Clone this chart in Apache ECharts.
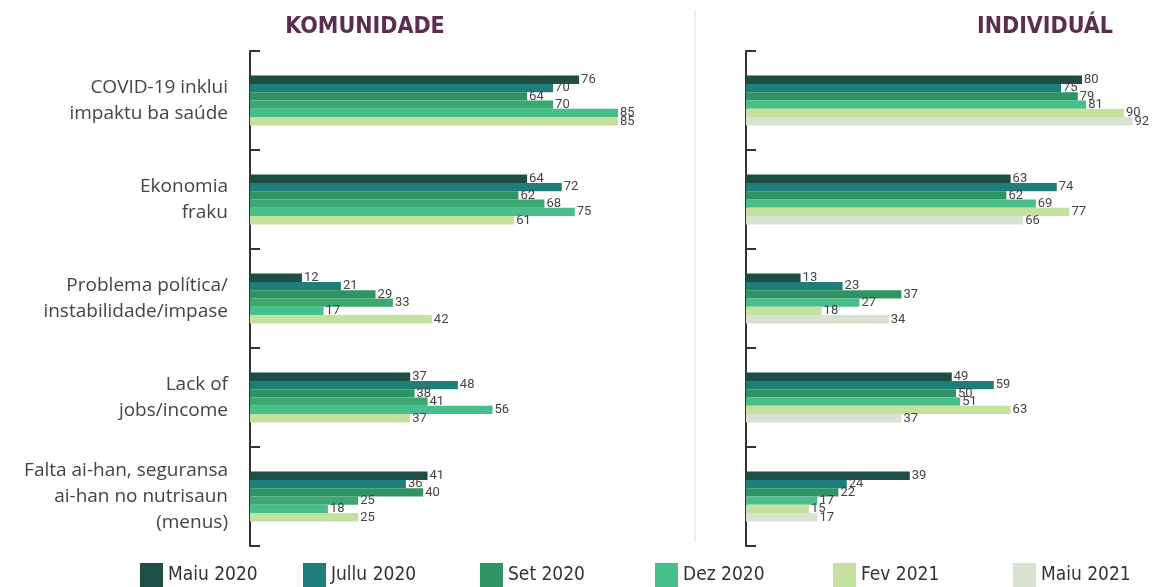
<!DOCTYPE html>
<html>
<head>
<meta charset="utf-8">
<script src="https://cdn.jsdelivr.net/npm/echarts@6/dist/echarts.min.js"></script>
<style>
  html, body { margin: 0; padding: 0; background: #fff; }
  #chart { width: 1166px; height: 587px; }
</style>
</head>
<body>
<div id="chart"></div>
<script>
const categories = [
  "COVID-19 inklui\nimpaktu ba saúde",
  "Ekonomia\nfraku",
  "Problema política/\ninstabilidade/impase",
  "Lack of\njobs/income",
  "Falta ai-han, seguransa\nai-han no nutrisaun\n(menus)"
];
const periods = ["Maiu 2020", "Jullu 2020", "Set 2020", "Dez 2020", "Fev 2021", "Maiu 2021"];

// KOMUNIDADE
const kMaiu2020 = [76, 64, 12, 37, 41];
const kJullu2020 = [70, 72, 21, 48, 36];
const kSet2020 = [64, 62, 29, 38, 40];
const kDez2020 = [70, 68, 33, 41, 25];
const kFev2021 = [85, 75, 17, 56, 18];
const kMaiu2021 = [85, 61, 42, 37, 25];

// INDIVIDUÁL
const iMaiu2020 = [80, 63, 13, 49, 39];
const iJullu2020 = [75, 74, 23, 59, 24];
const iSet2020 = [79, 62, 37, 50, 22];
const iDez2020 = [81, 69, 27, 51, 17];
const iFev2021 = [90, 77, 18, 63, 15];
const iMaiu2021 = [92, 66, 34, 37, 17];

const komunidade = [kMaiu2020, kJullu2020, kSet2020, kDez2020, kFev2021, kMaiu2021];
const individual = [iMaiu2020, iJullu2020, iSet2020, iDez2020, iFev2021, iMaiu2021];

const colors = ["#1d4f47", "#1e7f7a", "#2f9463", "#48bf8b", "#c5e1a0", "#d8e2d0"];
const kColors = ["#1d4f47", "#1e7f7a", "#2f9463", "#3aa870", "#48bf8b", "#c5e1a0"];
const legendLeft = [140, 303, 480, 655, 833, 1013];

const myCharts = echarts.init(document.getElementById("chart"));

function makeSeries(values, idx, axisIdx, color) {
  return {
    name: periods[idx],
    type: "bar",
    xAxisIndex: axisIdx,
    yAxisIndex: axisIdx,
    data: values,
    barWidth: 8.3,
    barGap: "0%",
    itemStyle: { color: color },
    label: {
      show: true,
      position: "right",
      distance: 2,
      fontSize: 13,
      color: "#444",
      fontFamily: "Roboto"
    }
  };
}

const series = [];
individual.forEach((v, i) => series.push(makeSeries(v, i, 1, colors[i])));
komunidade.forEach((v, i) => series.push(makeSeries(v, i, 0, kColors[i])));

// one legend per item so the spacing follows the reference
const legends = periods.map((p, i) => ({
  data: [p],
  left: legendLeft[i],
  top: 563,
  padding: 0,
  itemWidth: 23,
  itemHeight: 24,
  icon: "rect",
  textStyle: { fontSize: 19, color: "#333", fontFamily: "DejaVu Sans Condensed" }
}));

const yAxisBase = {
  type: "category",
  data: categories,
  inverse: true,
  axisLine: { show: true, lineStyle: { color: "#333", width: 2 } },
  axisTick: { show: true, inside: true, length: 10, lineStyle: { color: "#333", width: 2 } },
};

const option = {
  animation: false,
  color: colors,
  title: [
    {
      text: "KOMUNIDADE",
      left: 360,
      top: 11,
      textAlign: "center",
      textStyle: { color: "#5b2d4f", fontSize: 23, fontWeight: "bold", fontFamily: "DejaVu Sans Condensed" }
    },
    {
      text: "INDIVIDUÁL",
      left: 1040,
      top: 11,
      textAlign: "center",
      textStyle: { color: "#5b2d4f", fontSize: 23, fontWeight: "bold", fontFamily: "DejaVu Sans Condensed" }
    }
  ],
  legend: legends,
  grid: [
    { left: 250, top: 51, width: 433, height: 495 },
    { left: 746, top: 51, width: 428, height: 495 }
  ],
  xAxis: [
    { gridIndex: 0, type: "value", min: 0, max: 100, show: false },
    { gridIndex: 1, type: "value", min: 0, max: 100, show: false }
  ],
  yAxis: [
    Object.assign({}, yAxisBase, {
      gridIndex: 0,
      axisLabel: { margin: 22, fontSize: 19, color: "#444", lineHeight: 26, fontFamily: "Open Sans", align: "right" }
    }),
    Object.assign({}, yAxisBase, {
      gridIndex: 1,
      axisLabel: { show: false }
    })
  ],
  graphic: [
    {
      type: "line",
      shape: { x1: 695, y1: 10, x2: 695, y2: 542 },
      style: { stroke: "#e2e2e2", lineWidth: 1 }
    }
  ],
  series: series
};

myCharts.setOption(option);
</script>
</body>
</html>
